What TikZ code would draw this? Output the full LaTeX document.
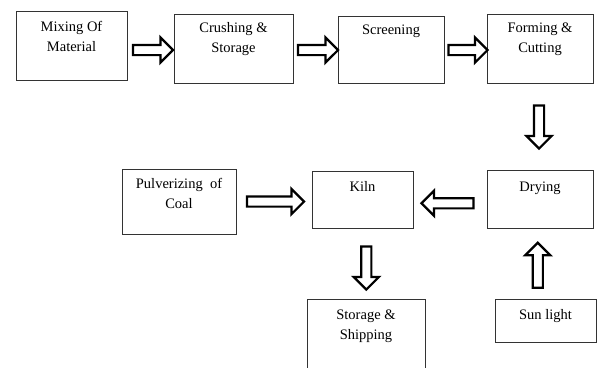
\documentclass[tikz,border=0pt]{standalone}
\usepackage{fontspec}
\setmainfont{Liberation Serif}
\usepackage{tikz}
\usetikzlibrary{shapes.arrows, positioning, calc}

\tikzset{
  stage/.style={draw=black!80, line width=0.8pt, rectangle, inner sep=0pt},
  stagetext/.style={anchor=north, align=center, inner sep=0pt,
    font=\fontsize{14.5}{20}\selectfont},
  fatarrow/.style={single arrow, draw=black, fill=white, line width=2.2pt,
    inner sep=0pt, inner ysep=4pt, single arrow head extend=7.5pt,
    single arrow tip angle=90}
}

\begin{document}
\begin{tikzpicture}[x=1pt, y=-1pt]
  \useasboundingbox (0,0) rectangle (597,367);

  % top row
  \node[stage, minimum width=111pt, minimum height=69pt] (mix) at (71.5,45.5) {};
  \node[stage, minimum width=119pt, minimum height=69pt] (crush) at (233.5,48.5) {};
  \node[stage, minimum width=106pt, minimum height=67pt] (screen) at (391,49.5) {};
  \node[stage, minimum width=106pt, minimum height=69pt] (form) at (540,48.5) {};

  % middle row
  \node[stage, minimum width=114pt, minimum height=65pt] (pulv) at (179,201.5) {};
  \node[stage, minimum width=101pt, minimum height=57pt] (kiln) at (362.5,199.5) {};
  \node[stage, minimum width=106pt, minimum height=58pt] (dry) at (540,199) {};

  % bottom row
  \node[stage, minimum width=118pt, minimum height=90pt] (store) at (366,344) {};
  \node[stage, minimum width=101pt, minimum height=43pt] (sun) at (545.5,321) {};

  % box texts
  \node[stagetext] (mixtext) at ([yshift=-10pt]mix.north) {Mixing Of\\Material};
  \node[stagetext] (crushtext) at ([yshift=-9pt]crush.north) {Crushing \&\\Storage};
  \node[stagetext] (screentext) at ([yshift=-9pt]screen.north) {Screening};
  \node[stagetext] (formtext) at ([yshift=-9pt]form.north) {Forming \&\\Cutting};
  \node[stagetext] (pulvtext) at ([yshift=-9pt]pulv.north) {Pulverizing\ \ of\\Coal};
  \node[stagetext] (kilntext) at ([yshift=-11pt]kiln.north) {Kiln};
  \node[stagetext] (drytext) at ([yshift=-12pt]dry.north) {Drying};
  \node[stagetext] (storetext) at ([yshift=-11pt]store.north) {Storage \&\\Shipping};
  \node[stagetext] (suntext) at ([yshift=-10pt]sun.north) {Sun light};

  % block arrows between the stages
  \node[fatarrow, minimum height=40pt] (a1) at ($(mix.east)!.5!(crush.west)+(0,3)$) {};
  \node[fatarrow, minimum height=40pt] (a2) at ($(crush.east)!.5!(screen.west)+(0,1)$) {};
  \node[fatarrow, minimum height=39pt] (a3) at ($(screen.east)!.5!(form.west)+(0,1)$) {};
  \node[fatarrow, minimum height=43pt, rotate=-90] (a4) at ($(form.south)!.5!(dry.north)+(-1,-2)$) {};
  \node[fatarrow, minimum height=57pt] (a5) at ($(pulv.east)!.5!(kiln.west)+(-1,1)$) {};
  \node[fatarrow, minimum height=52pt, rotate=180] (a6) at ($(kiln.east)!.5!(dry.west)+(0,4)$) {};
  \node[fatarrow, minimum height=43pt, rotate=-90] (a7) at ($(kiln.south)!.5!(store.north)+(2,2)$) {};
  \node[fatarrow, minimum height=45pt, rotate=90] (a8) at ($(dry.south)!.5!(sun.north)+(-5,4)$) {};
\end{tikzpicture}
\end{document}
